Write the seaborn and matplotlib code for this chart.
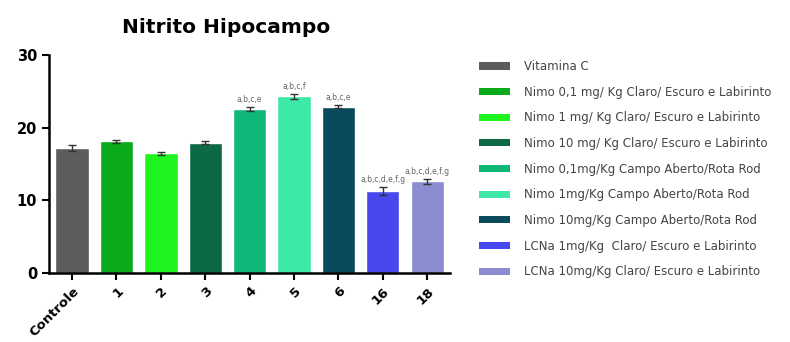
import matplotlib
matplotlib.use("Agg")
import matplotlib.pyplot as plt
import seaborn as sns
import pandas as pd
from matplotlib.patches import Patch

# Grupos, médias de nitrito e erro padrão
grupos = ["Controle", "1", "2", "3", "4", "5", "6", "16", "18"]
descricoes = [
    "Vitamina C",
    "Nimo 0,1 mg/ Kg Claro/ Escuro e Labirinto",
    "Nimo 1 mg/ Kg Claro/ Escuro e Labirinto",
    "Nimo 10 mg/ Kg Claro/ Escuro e Labirinto",
    "Nimo 0,1mg/Kg Campo Aberto/Rota Rod",
    "Nimo 1mg/Kg Campo Aberto/Rota Rod",
    "Nimo 10mg/Kg Campo Aberto/Rota Rod",
    "LCNa 1mg/Kg  Claro/ Escuro e Labirinto",
    "LCNa 10mg/Kg Claro/ Escuro e Labirinto",
]
medias = [17.2, 18.1, 16.5, 17.9, 22.6, 24.3, 22.9, 11.3, 12.6]
erros = [0.35, 0.25, 0.2, 0.2, 0.25, 0.3, 0.2, 0.6, 0.35]
letras = ["", "", "", "", "a,b,c,e", "a,b,c,f", "a,b,c,e",
          "a,b,c,d,e,f,g", "a,b,c,d,e,f,g"]
cores = ["#5c5c5e", "#0aab1a", "#1ef41e", "#0b6a45", "#0fb779",
         "#3ee8a6", "#0a4a5c", "#4848ee", "#8c8cd0"]

df = pd.DataFrame({"grupo": grupos, "valor": medias, "desc": descricoes})

sns.set_style("ticks")
plt.rcParams["font.family"] = ["DejaVu Sans"]

fig = plt.figure(figsize=(7.9, 3.42), dpi=100)
ax = fig.add_axes([0.062, 0.202, 0.508, 0.637])

sns.barplot(data=df, x="grupo", y="valor", hue="grupo", palette=cores,
            width=0.75, errorbar=None, legend=False, ax=ax, saturation=1)

pos = range(len(grupos))
ax.errorbar(pos, medias, yerr=erros, fmt="none", ecolor="#333333",
            elinewidth=1, capsize=3, capthick=1)

for x, (m, e, t) in enumerate(zip(medias, erros, letras)):
    if t:
        ax.text(x, m + e + 0.4, t, ha="center", va="bottom",
                fontsize=5.5, color="#666666")

ax.set_xlim(-0.52, len(grupos) - 0.48)
ax.set_ylim(0, 30)
ax.set_yticks([0, 10, 20, 30])
ax.set_xlabel("")
ax.set_ylabel("")
fig.text(0.286, 0.92, "Nitrito Hipocampo", fontsize=14.5, fontweight="bold",
         ha="center", va="center", color="black")

sns.despine(ax=ax)
for s in ["left", "bottom"]:
    ax.spines[s].set_linewidth(1.8)
    ax.spines[s].set_color("black")
ax.tick_params(axis="both", width=1.5, length=5, colors="black")
ax.tick_params(axis="y", labelsize=10.5)
ax.tick_params(axis="x", labelsize=9.5)
for lab in ax.get_yticklabels():
    lab.set_fontweight("bold")
for lab in ax.get_xticklabels():
    lab.set_fontweight("bold")
    lab.set_rotation(45)
    lab.set_ha("right")
    lab.set_rotation_mode("anchor")

handles = [Patch(facecolor=c, edgecolor="none") for c in cores]
fig.legend(handles, descricoes, loc="upper left",
           bbox_to_anchor=(0.593, 0.855), frameon=False, fontsize=8.5,
           handlelength=2.6, handleheight=0.55, labelspacing=1.07,
           handletextpad=1.2, labelcolor="#444444")

fig.savefig("out.png", dpi=100)
